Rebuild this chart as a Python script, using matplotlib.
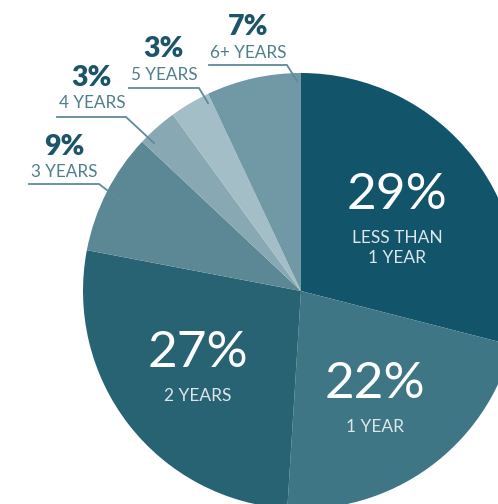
import matplotlib.pyplot as plt

# -----------------------------
# Data
# -----------------------------
labels = ["LESS THAN\n1 YEAR", "1 YEAR", "2 YEARS", "3 YEARS", "4 YEARS", "5 YEARS", "6+ YEARS"]
shares = [29, 22, 27, 9, 3, 3, 7]
colors = ["#12546a", "#3e7686", "#286374", "#5b8894", "#88a9b3", "#a3bec7", "#7098a5"]

# figure in pixel coords (y measured from top of image)
W, H = 498, 504
fig = plt.figure(figsize=(W / 100, H / 100), dpi=100)
ax = fig.add_axes([0, 0, 1, 1])

cx, cy, r = 301, H - 291, 218
ax.pie(shares, colors=colors, startangle=90, counterclock=False,
       center=(cx, cy), radius=r, frame=True,
       wedgeprops=dict(linewidth=0))
ax.set_xlim(0, W)
ax.set_ylim(0, H)
ax.set_aspect("equal")
ax.axis("off")

font = "Lato"

# -----------------------------
# Labels inside the pie
# -----------------------------
inside = {0: (397, 195, 248), 1: (375, 384, 427), 2: (198, 353, 396)}
for i, (x, y_pct, y_lab) in inside.items():
    ax.text(x, H - y_pct, f"{shares[i]}%", color="white", fontsize=37,
            family=font, ha="center", va="center")
    ax.text(x, H - y_lab, labels[i], color="#dce7ea",
            fontsize=12.5, family=font, ha="center", va="center",
            linespacing=1.35)

# -----------------------------
# Labels outside with leader lines
# -----------------------------
outside = {
    3: dict(x=64, y_pct=147, y_lab=172, line=[(29, 184), (99, 184), (120, 200)]),
    4: dict(x=92, y_pct=78, y_lab=103, line=[(57, 117), (126, 117), (154, 143)]),
    5: dict(x=164, y_pct=49, y_lab=75, line=[(129, 88), (199, 88), (208, 103)]),
    6: dict(x=248, y_pct=27, y_lab=53, line=[(209, 65), (287, 65), (297, 81)]),
}
for i, o in outside.items():
    ax.text(o["x"], H - o["y_pct"], f"{shares[i]}%", color="#1c5569",
            fontsize=20.5, fontweight="heavy", family=font,
            ha="center", va="center")
    ax.text(o["x"], H - o["y_lab"], labels[i], color="#4f7f8c",
            fontsize=12.3, family=font, ha="center", va="center")
    xs = [p[0] for p in o["line"]]
    ys = [H - p[1] for p in o["line"]]
    ax.plot(xs, ys, color="#5d8b98", linewidth=1.3)

fig.savefig("out.png", dpi=100)
